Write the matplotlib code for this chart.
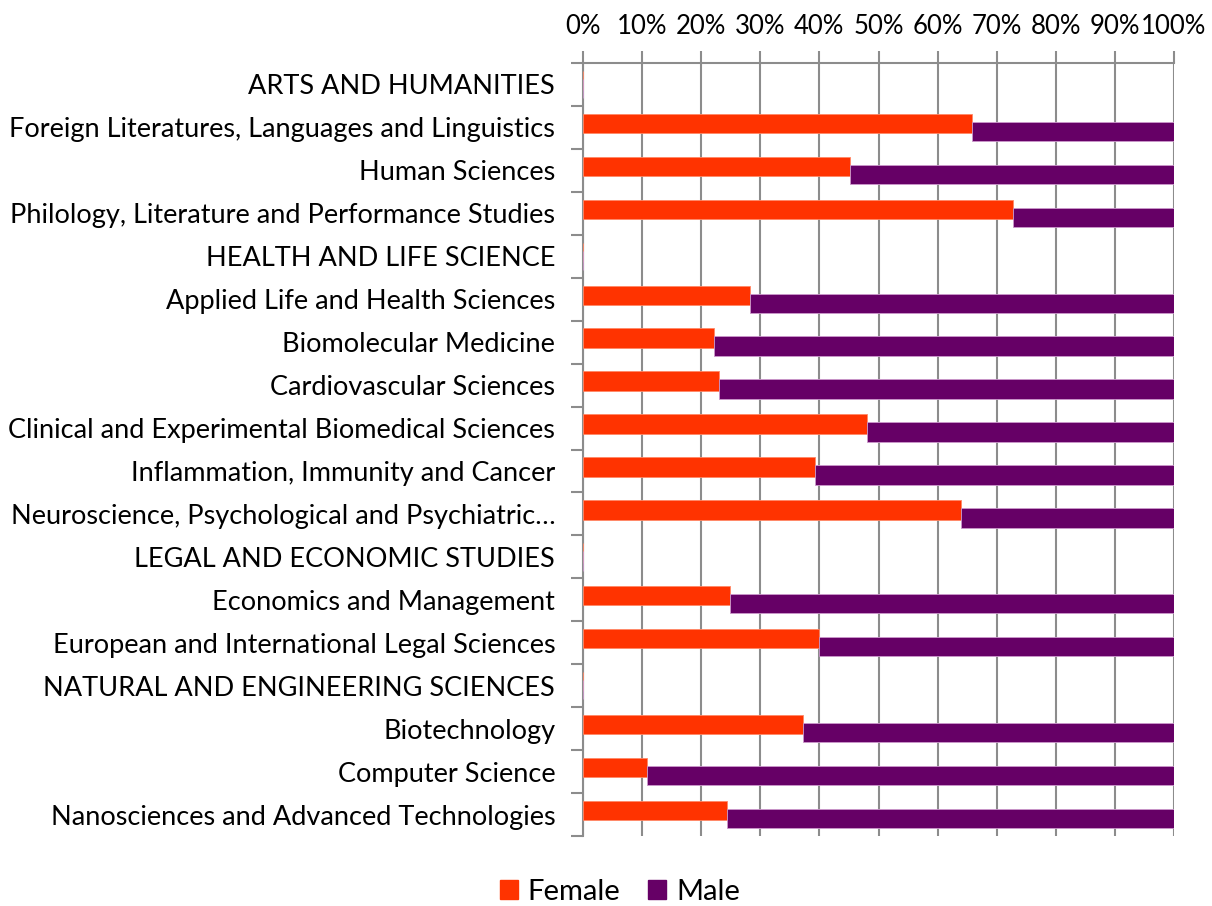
import matplotlib
matplotlib.use("Agg")
import matplotlib.pyplot as plt
import numpy as np
from matplotlib.patches import Patch

categories = [
    "ARTS AND HUMANITIES",
    "Foreign Literatures, Languages and Linguistics",
    "Human Sciences",
    "Philology, Literature and Performance Studies",
    "HEALTH AND LIFE SCIENCE",
    "Applied Life and Health Sciences",
    "Biomolecular Medicine",
    "Cardiovascular Sciences",
    "Clinical and Experimental Biomedical Sciences",
    "Inflammation, Immunity and Cancer",
    "Neuroscience, Psychological and Psychiatric\u2026",
    "LEGAL AND ECONOMIC STUDIES",
    "Economics and Management",
    "European and International Legal Sciences",
    "NATURAL AND ENGINEERING SCIENCES",
    "Biotechnology",
    "Computer Science",
    "Nanosciences and Advanced Technologies",
]

female = [0, 65.8, 45.1, 72.7, 0, 28.2, 22.2, 23.0, 48.0, 39.2, 63.9,
          0, 24.9, 39.9, 0, 37.3, 10.9, 24.4]
male = [0 if f == 0 else 100 - f for f in female]
xtick_labels = ["0%", "10%", "20%", "30%", "40%", "50%", "60%", "70%", "80%", "90%", "100%"]

FEMALE_C = "#FF3300"
MALE_C = "#660066"
GRID_C = "#8C8C8C"

plt.rcParams['font.family'] = ['Lato', 'DejaVu Sans']

fig = plt.figure(figsize=(12.12, 9.06), dpi=100)
ax = fig.add_axes([583/1212, 1 - 836/906, (1174-583)/1212, (836-63)/906])

n = len(categories)
y = np.arange(n)
h = 0.45
off = 0.093
ax.barh(y - off, female, height=h, color=FEMALE_C, edgecolor="#FF8866", linewidth=0.6, zorder=3)
ax.barh(y + off, male, left=female, height=h, color=MALE_C, edgecolor="#CC99CC", linewidth=0.6, zorder=3)

ax.set_ylim(n - 0.5, -0.5)
ax.set_xlim(0, 100)
ax.set_yticks(y)
ax.set_yticklabels(categories, fontsize=19.5)
ax.set_yticks(np.arange(-0.5, n, 1), minor=True)
ax.tick_params(axis='y', which='major', length=0, pad=20)
ax.tick_params(axis='y', which='minor', length=9, width=1.5, color=GRID_C, direction='out')

ax.xaxis.tick_top()
ax.set_xticks(np.arange(0, 101, 10))
ax.set_xticklabels(xtick_labels, fontsize=18.5)
ax.tick_params(axis='x', length=9, width=1.5, color=GRID_C, pad=8, direction='out')
ax.grid(axis='x', color=GRID_C, linewidth=1.5, zorder=0)
ax.set_axisbelow(True)

for s in ['bottom', 'right']:
    ax.spines[s].set_visible(False)
for s in ['top', 'left']:
    ax.spines[s].set_color(GRID_C)
    ax.spines[s].set_linewidth(1.5)

handles = [Patch(facecolor=FEMALE_C, edgecolor=FEMALE_C, label="Female"),
           Patch(facecolor=MALE_C, edgecolor=MALE_C, label="Male")]
fig.legend(handles=handles, loc='center', bbox_to_anchor=(620/1212, 1 - 892/906), ncol=2,
           frameon=False, fontsize=21, handlelength=0.62, handleheight=0.62,
           handletextpad=0.35, columnspacing=0.95)

fig.savefig("out.png", dpi=100)
